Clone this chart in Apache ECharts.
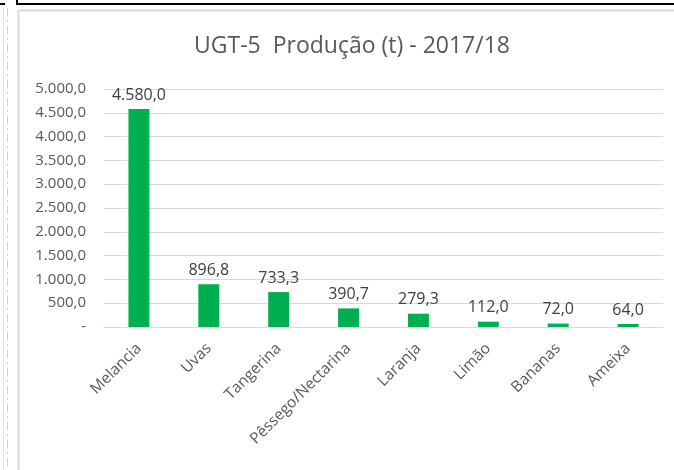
<!DOCTYPE html>
<html>
<head>
<meta charset="utf-8">
<script src="https://cdn.jsdelivr.net/npm/echarts@6/dist/echarts.min.js"></script>
<style>
html, body { margin: 0; padding: 0; background: #fff; }
#chart { width: 674px; height: 470px; }
</style>
</head>
<body>
<div id="chart"></div>
<script>
var categories = ['Melancia', 'Uvas', 'Tangerina', 'Pêssego/Nectarina', 'Laranja', 'Limão', 'Bananas', 'Ameixa'];
var producao = [4580.0, 896.8, 733.3, 390.7, 279.3, 112.0, 72.0, 64.0];
var yTicks = [0, 500, 1000, 1500, 2000, 2500, 3000, 3500, 4000, 4500, 5000];

var FONT = "'Open Sans', sans-serif";

// 1234.5 -> "1.234,5"
function fmt(v) {
    var s = v.toFixed(1).split('.');
    var int = s[0].replace(/\B(?=(\d{3})+(?!\d))/g, '.');
    return int + ',' + s[1];
}

var myChart = echarts.init(document.getElementById('chart'));
var option = {
    backgroundColor: '#fff',
    animation: false,
    title: {
        text: 'UGT-5  Produção (t) - 2017/18',
        left: 189,
        top: 30,
        textStyle: { fontFamily: FONT, fontSize: 23, fontWeight: 'normal', color: '#595959' }
    },
    grid: { left: 104, right: 11, top: 89, bottom: 143 },
    xAxis: {
        type: 'category',
        data: categories,
        axisLine: { lineStyle: { color: '#D9D9D9', width: 1 } },
        axisTick: { show: false },
        axisLabel: {
            interval: 0,
            rotate: 45,
            margin: 19,
            fontFamily: FONT,
            fontSize: 15.5,
            color: '#595959'
        }
    },
    yAxis: {
        type: 'value',
        min: yTicks[0],
        max: yTicks[yTicks.length - 1],
        interval: 500,
        axisLine: { show: false },
        axisTick: { show: false },
        splitLine: { lineStyle: { color: '#D9D9D9', width: 1 } },
        axisLabel: {
            margin: 18,
            fontFamily: FONT,
            fontSize: 15,
            color: '#595959',
            formatter: function (v) { return v === 0 ? '-' : fmt(v); }
        }
    },
    series: [{
        type: 'bar',
        data: producao,
        barWidth: '30%',
        itemStyle: { color: '#00B050' },
        label: {
            show: true,
            position: 'top',
            distance: 6,
            fontFamily: FONT,
            fontSize: 16,
            color: '#404040',
            formatter: function (p) { return fmt(p.value); }
        }
    }],
    graphic: [
        // spreadsheet frame around the chart
        { type: 'rect', shape: { x: 17, y: 3, width: 670, height: 2 }, style: { fill: '#000' }, silent: true },
        { type: 'rect', shape: { x: 16, y: 0, width: 2, height: 5 }, style: { fill: '#000' }, silent: true },
        { type: 'rect', shape: { x: 0, y: 3, width: 5, height: 2 }, style: { fill: '#000' }, silent: true },
        { type: 'line', shape: { x1: 19, y1: 10.5, x2: 674, y2: 10.5 }, style: { stroke: '#D9D9D9', lineWidth: 2 }, silent: true },
        { type: 'line', shape: { x1: 18.5, y1: 10, x2: 18.5, y2: 470 }, style: { stroke: '#D9D9D9', lineWidth: 2 }, silent: true },
        { type: 'line', shape: { x1: 3.5, y1: 8, x2: 3.5, y2: 470 }, style: { stroke: '#E3E3E3', lineWidth: 1 }, silent: true },
        { type: 'line', shape: { x1: 7.5, y1: 8, x2: 7.5, y2: 470 }, style: { stroke: '#D0D0D0', lineWidth: 1, lineDash: [8, 4, 2, 4] }, silent: true }
    ]
};
myChart.setOption(option);
</script>
</body>
</html>
